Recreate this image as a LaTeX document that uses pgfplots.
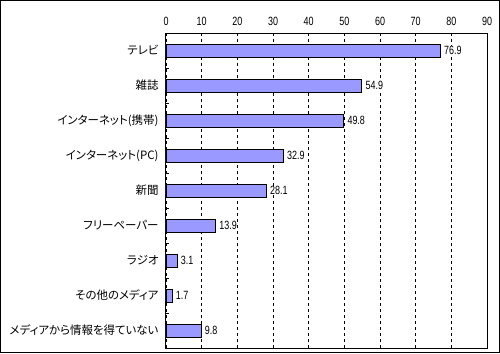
\documentclass[border=0pt]{standalone}
\usepackage{pgfplots}
\pgfplotsset{compat=1.18}
\usepackage{fontspec}
\setmainfont{Liberation Sans}
\newfontfamily\narrow[FakeStretch=0.75]{Liberation Sans}
\newfontfamily\jp[RawFeature=+palt]{Noto Sans CJK JP}
\definecolor{barc}{HTML}{9999FF}
\begin{document}
\begin{tikzpicture}[x=1bp,y=1bp]
\begin{axis}[
 at={(0,0)}, anchor=south west,
 scale only axis, width=321bp, height=315bp,
 xbar, bar width=13bp, bar shift=0pt,
 xmin=0, xmax=90, xtick={0,10,...,90},
 xticklabel pos=right,
 xticklabel style={font=\narrow\fontsize{12}{13}\selectfont, yshift=4bp},
 /pgf/number format/assume math mode=true,
 ymin=-0.5, ymax=8.5, y dir=reverse,
 ytick={0,...,8},
 yticklabels={テレビ,雑誌,インターネット(携帯),インターネット(PC),新聞,フリーペーパー,ラジオ,その他のメディア,メディアから情報を得ていない},
 yticklabel style={font=\jp\fontsize{11.5}{13}\selectfont, xshift=-4bp},
 ytick pos=left,
 major tick length=0pt,
 minor ytick={0.5,1.5,...,7.5}, minor tick length=3bp,
 tick align=inside,
 tick style={black, line width=0.8bp},
 xmajorgrids, grid style={black, line width=0.8bp, dash pattern=on 3bp off 3bp},
 axis line style={black, line width=1bp},
 nodes near coords,
 nodes near coords style={anchor=west, fill=white, inner sep=0.5bp, xshift=3bp, font=\narrow\fontsize{12}{13}\selectfont, /pgf/number format/.cd, fixed, fixed zerofill, precision=1, assume math mode=true},
 point meta=x,
]
\addplot[fill=barc, draw=black, line width=0.8bp] coordinates {(76.9,0) (54.9,1) (49.8,2) (32.9,3) (28.1,4) (13.9,5) (3.1,6) (1.7,7) (9.8,8)};
\end{axis}
\draw[line width=1bp] (-165.5,-4.5) rectangle (333.5,347.5);
\end{tikzpicture}
\end{document}
